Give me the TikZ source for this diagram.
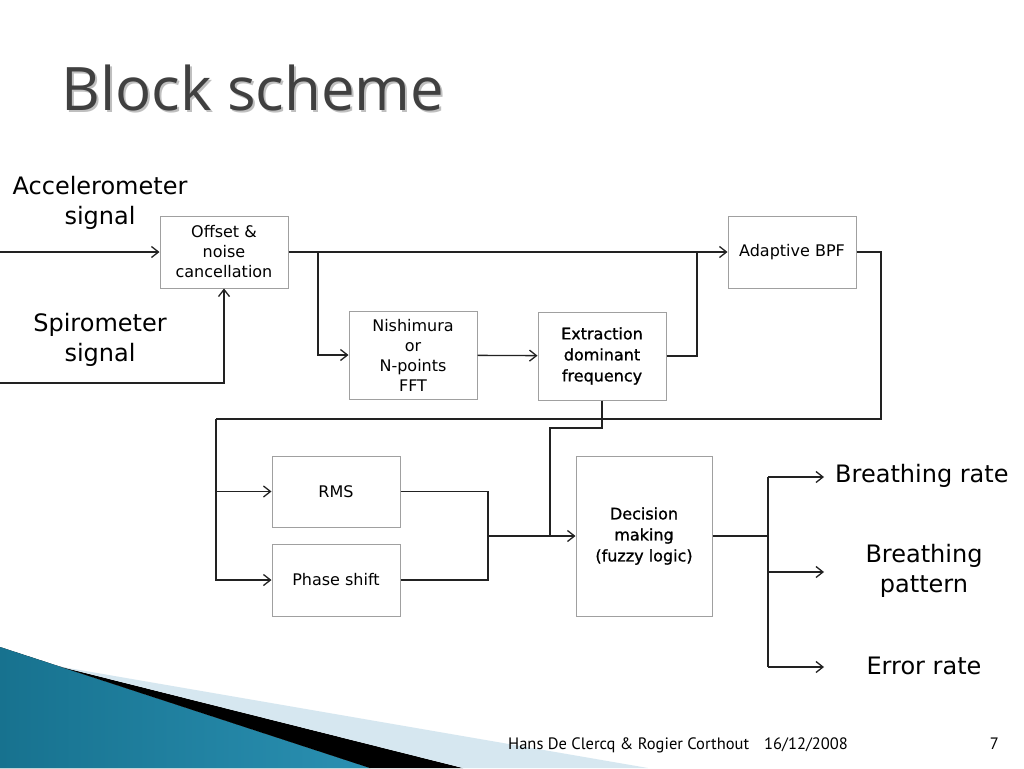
\documentclass[tikz,border=0pt]{standalone}
\usepackage{fontspec}
\setmainfont{DejaVu Sans}
\newfontfamily\titlefont{Open Sans}
\newfontfamily\footfont{PT Sans}
\newfontfamily\heavyfont[FakeBold=1]{DejaVu Sans}
\usetikzlibrary{arrows.meta}
\definecolor{linegray}{HTML}{222222}
\definecolor{boxgray}{HTML}{A0A0A0}
\definecolor{titlegray}{HTML}{404040}
\definecolor{decodark}{HTML}{17728F}
\definecolor{decomid}{HTML}{4AAED0}
\definecolor{decoend}{HTML}{2A90B2}
\definecolor{decopale}{HTML}{D6E7F0}

\tikzset{
    block/.style={draw=boxgray,fill=white,line width=1pt,minimum width=128pt,
        align=center,inner sep=0pt,font=\fontsize{16}{20}\selectfont},
    heavy/.style={font=\heavyfont\fontsize{16}{21}\selectfont},
    biglabel/.style={align=center,inner sep=0pt,font=\fontsize{24}{30}\selectfont},
    footer/.style={inner sep=0pt,font=\footfont\fontsize{16.5}{16.5}\selectfont},
    wire/.style={draw=linegray,line width=1.3pt},
    >={Straight Barb[length=7pt,width=11pt]}
}

\begin{document}
\begin{tikzpicture}[x=1pt,y=-1pt]
    \useasboundingbox (0,0) rectangle (1024,768);
    \fill[white] (0,0) rectangle (1024,768);

    % corner decoration
    \fill[left color=decodark,middle color=decomid,right color=decoend] (0,647)--(370,768)--(0,768)--cycle;
    \fill[black] (60,666.6)--(463,768)--(370,768)--cycle;
    \fill[decopale] (60,666.6)--(648,768)--(463,768)--cycle;

    \node[anchor=base west,inner sep=0pt,text=black!25,font=\titlefont\fontsize{60}{60}\selectfont] (titleshadow) at (63,112) {Block scheme};
    \node[anchor=base west,inner sep=0pt,text=titlegray,font=\titlefont\fontsize{60}{60}\selectfont] (title) at (61,110) {Block scheme};

    \node[biglabel] (acc) at (100,203) {Accelerometer\\signal};
    \node[biglabel] (spi) at (100,340) {Spirometer\\signal};

    \node[block,minimum height=72pt] (off) at (224,252) {Offset \&\\noise\\cancellation};
    \node[block,minimum height=88pt] (nish) at (413,355) {Nishimura\\or\\N-points\\FFT};
    \node[block,heavy,minimum height=88pt] (extr) at (602,356) {Extraction\\dominant\\frequency};
    \node[block,minimum height=72pt] (bpf) at (792,252) {Adaptive BPF};
    \node[block,minimum height=71pt] (rms) at (336,491.5) {RMS};
    \node[block,minimum height=72pt] (phase) at (336,580) {Phase shift};
    \node[block,heavy,minimum width=136pt,minimum height=160pt] (dec) at (644,536) {Decision\\making\\(fuzzy logic)};

    \node[biglabel,anchor=west] (rate) at (835,476) {Breathing rate};
    \node[biglabel] (pattern) at (924,571) {Breathing\\pattern};
    \node[biglabel] (error) at (924,666) {Error rate};

    \coordinate (accin) at (0,252);
    \coordinate (spiin) at (0,383);
    \coordinate (br1) at (318,252);
    \coordinate (br2) at (697,252);
    \coordinate (fb1) at (881,419);
    \coordinate (fb2) at (216,419);
    \coordinate (fb3) at (550,428);
    \coordinate (mix) at (488,536);
    \coordinate (outj) at (768,536);
    \coordinate (o1) at (768,477);
    \coordinate (o2) at (768,572);
    \coordinate (o3) at (768,667);
    \coordinate (e1) at (824,477);
    \coordinate (e2) at (824,572);
    \coordinate (e3) at (824,667);

    \draw[wire,->] (accin) -- (off.west);
    \draw[wire,->] (spiin) -| (off.south);
    \draw[wire,->] (off.east) -- (bpf.west);
    \draw[wire,->] (br1) |- (nish.west);
    \draw[wire,->] (nish) -- (extr);
    \draw[wire] (extr.east) -| (br2);
    \draw[wire] (bpf.east) -| (fb1) -- (fb2);
    \draw[wire,->] (fb2) |- (phase.west);
    \draw[wire,->] (fb2 |- rms.west) -- (rms.west);
    \draw[wire] (rms.east) -| (mix);
    \draw[wire] (phase.east) -| (mix);
    \draw[wire,->] (mix) -- (dec.west);
    \draw[wire] (extr.south) |- (fb3) -- (fb3 |- dec.west);
    \draw[wire] (dec.east) -- (outj);
    \draw[wire] (o1) -- (o3);
    \draw[wire,->] (o1) -- (e1);
    \draw[wire,->] (o2) -- (e2);
    \draw[wire,->] (o3) -- (e3);

    \node[footer,anchor=base west] (authors) at (508,749) {Hans De Clercq \& Rogier Corthout};
    \node[footer,anchor=base west] (date) at (764,749) {16/12/2008};
    \node[footer,anchor=base east] (page) at (999,749) {7};
\end{tikzpicture}
\end{document}
